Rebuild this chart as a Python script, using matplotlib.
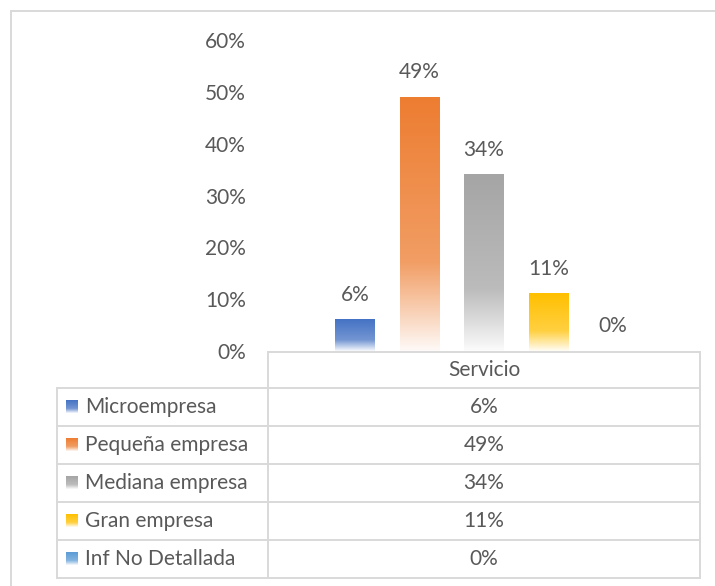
import numpy as np
import matplotlib
matplotlib.use('Agg')
import matplotlib.pyplot as plt
from matplotlib.colors import to_rgb

# data
categories = ['Microempresa', 'Pequeña empresa', 'Mediana empresa', 'Gran empresa', 'Inf No Detallada']
values = [6, 49, 34, 11, 0]
value_labels = ['6%', '49%', '34%', '11%', '0%']
group_label = 'Servicio'
yticks = [0, 10, 20, 30, 40, 50, 60]
ytick_labels = ['0%', '10%', '20%', '30%', '40%', '50%', '60%']
colors = ['#4472C4', '#ED7D31', '#A5A5A5', '#FFC000', '#5B9BD5']

plt.rcParams['font.family'] = ['Lato', 'DejaVu Sans']
txt_color = '#595959'
grid_color = '#D9D9D9'
fsize = 15

W, H = 715, 586
fig = plt.figure(figsize=(W/100, H/100), dpi=100)


def gradient(color, n=200):
    # solid at top, fading to white towards the bottom
    t = np.linspace(0, 1, n)
    alpha = np.interp(t, [0, 0.65, 0.85, 1.0], [1.0, 0.75, 0.35, 0.04])
    rgb = np.array(to_rgb(color))
    img = np.ones((n, 1, 3))
    img[:, 0, :] = rgb*alpha[:, None] + (1-alpha[:, None])
    return img


# layout axes in pixel coordinates (border + table)
lay = fig.add_axes([0, 0, 1, 1])
lay.set_xlim(0, W)
lay.set_ylim(H, 0)
lay.axis('off')

lw = 1.4
lay.plot([11, 11], [11, H], color=grid_color, lw=lw)
lay.plot([11, W], [11, 11], color=grid_color, lw=lw)

x_left, x_mid, x_right = 57, 268, 700
y_head = 352
row_h = 38
y_rows = [388 + i*row_h for i in range(len(categories)+1)]

lay.plot([x_mid, x_right], [y_head, y_head], color=grid_color, lw=lw)
for y in y_rows:
    lay.plot([x_left, x_right], [y, y], color=grid_color, lw=lw)
lay.plot([x_left, x_left], [y_rows[0], y_rows[-1]], color=grid_color, lw=lw)
lay.plot([x_mid, x_mid], [y_head, y_rows[-1]], color=grid_color, lw=lw)
lay.plot([x_right, x_right], [y_head, y_rows[-1]], color=grid_color, lw=lw)

xc = (x_mid + x_right)/2
lay.text(xc, (y_head + y_rows[0])/2, group_label, ha='center', va='center',
         fontsize=fsize, color=txt_color)
for i, (cat, lab) in enumerate(zip(categories, value_labels)):
    yc = (y_rows[i] + y_rows[i+1])/2
    lay.imshow(gradient(colors[i]), extent=[66, 78, yc+6, yc-7], aspect='auto', zorder=3)
    lay.text(85, yc, cat, ha='left', va='center', fontsize=fsize, color=txt_color)
    lay.text(xc, yc, lab, ha='center', va='center', fontsize=fsize, color=txt_color)
lay.set_xlim(0, W)
lay.set_ylim(H, 0)

# bar chart axes
ax = fig.add_axes([268/W, 1-351/H, 432/W, 311/H])
ax.patch.set_alpha(0)
x = np.arange(len(categories))
bars = ax.bar(x, values, width=0.61, color='none', edgecolor='none')
for b, c in zip(bars, colors):
    if b.get_height() <= 0:
        continue
    ax.imshow(gradient(c), extent=[b.get_x(), b.get_x()+b.get_width(), 0, b.get_height()],
              aspect='auto', zorder=2)
for xi, v, lab in zip(x, values, value_labels):
    ax.annotate(lab, (xi, v), xytext=(0, 18), textcoords='offset points',
                ha='center', va='center', fontsize=fsize, color=txt_color)

ax.set_xlim(-1.35, 5.35)
ax.set_ylim(0, 60)
ax.set_yticks(yticks)
ax.set_yticklabels(ytick_labels)
ax.set_xticks([])
ax.tick_params(axis='y', length=0, pad=16, labelsize=fsize, labelcolor=txt_color)
for s in ax.spines.values():
    s.set_visible(False)

fig.savefig('out.png', dpi=100, facecolor='white')
